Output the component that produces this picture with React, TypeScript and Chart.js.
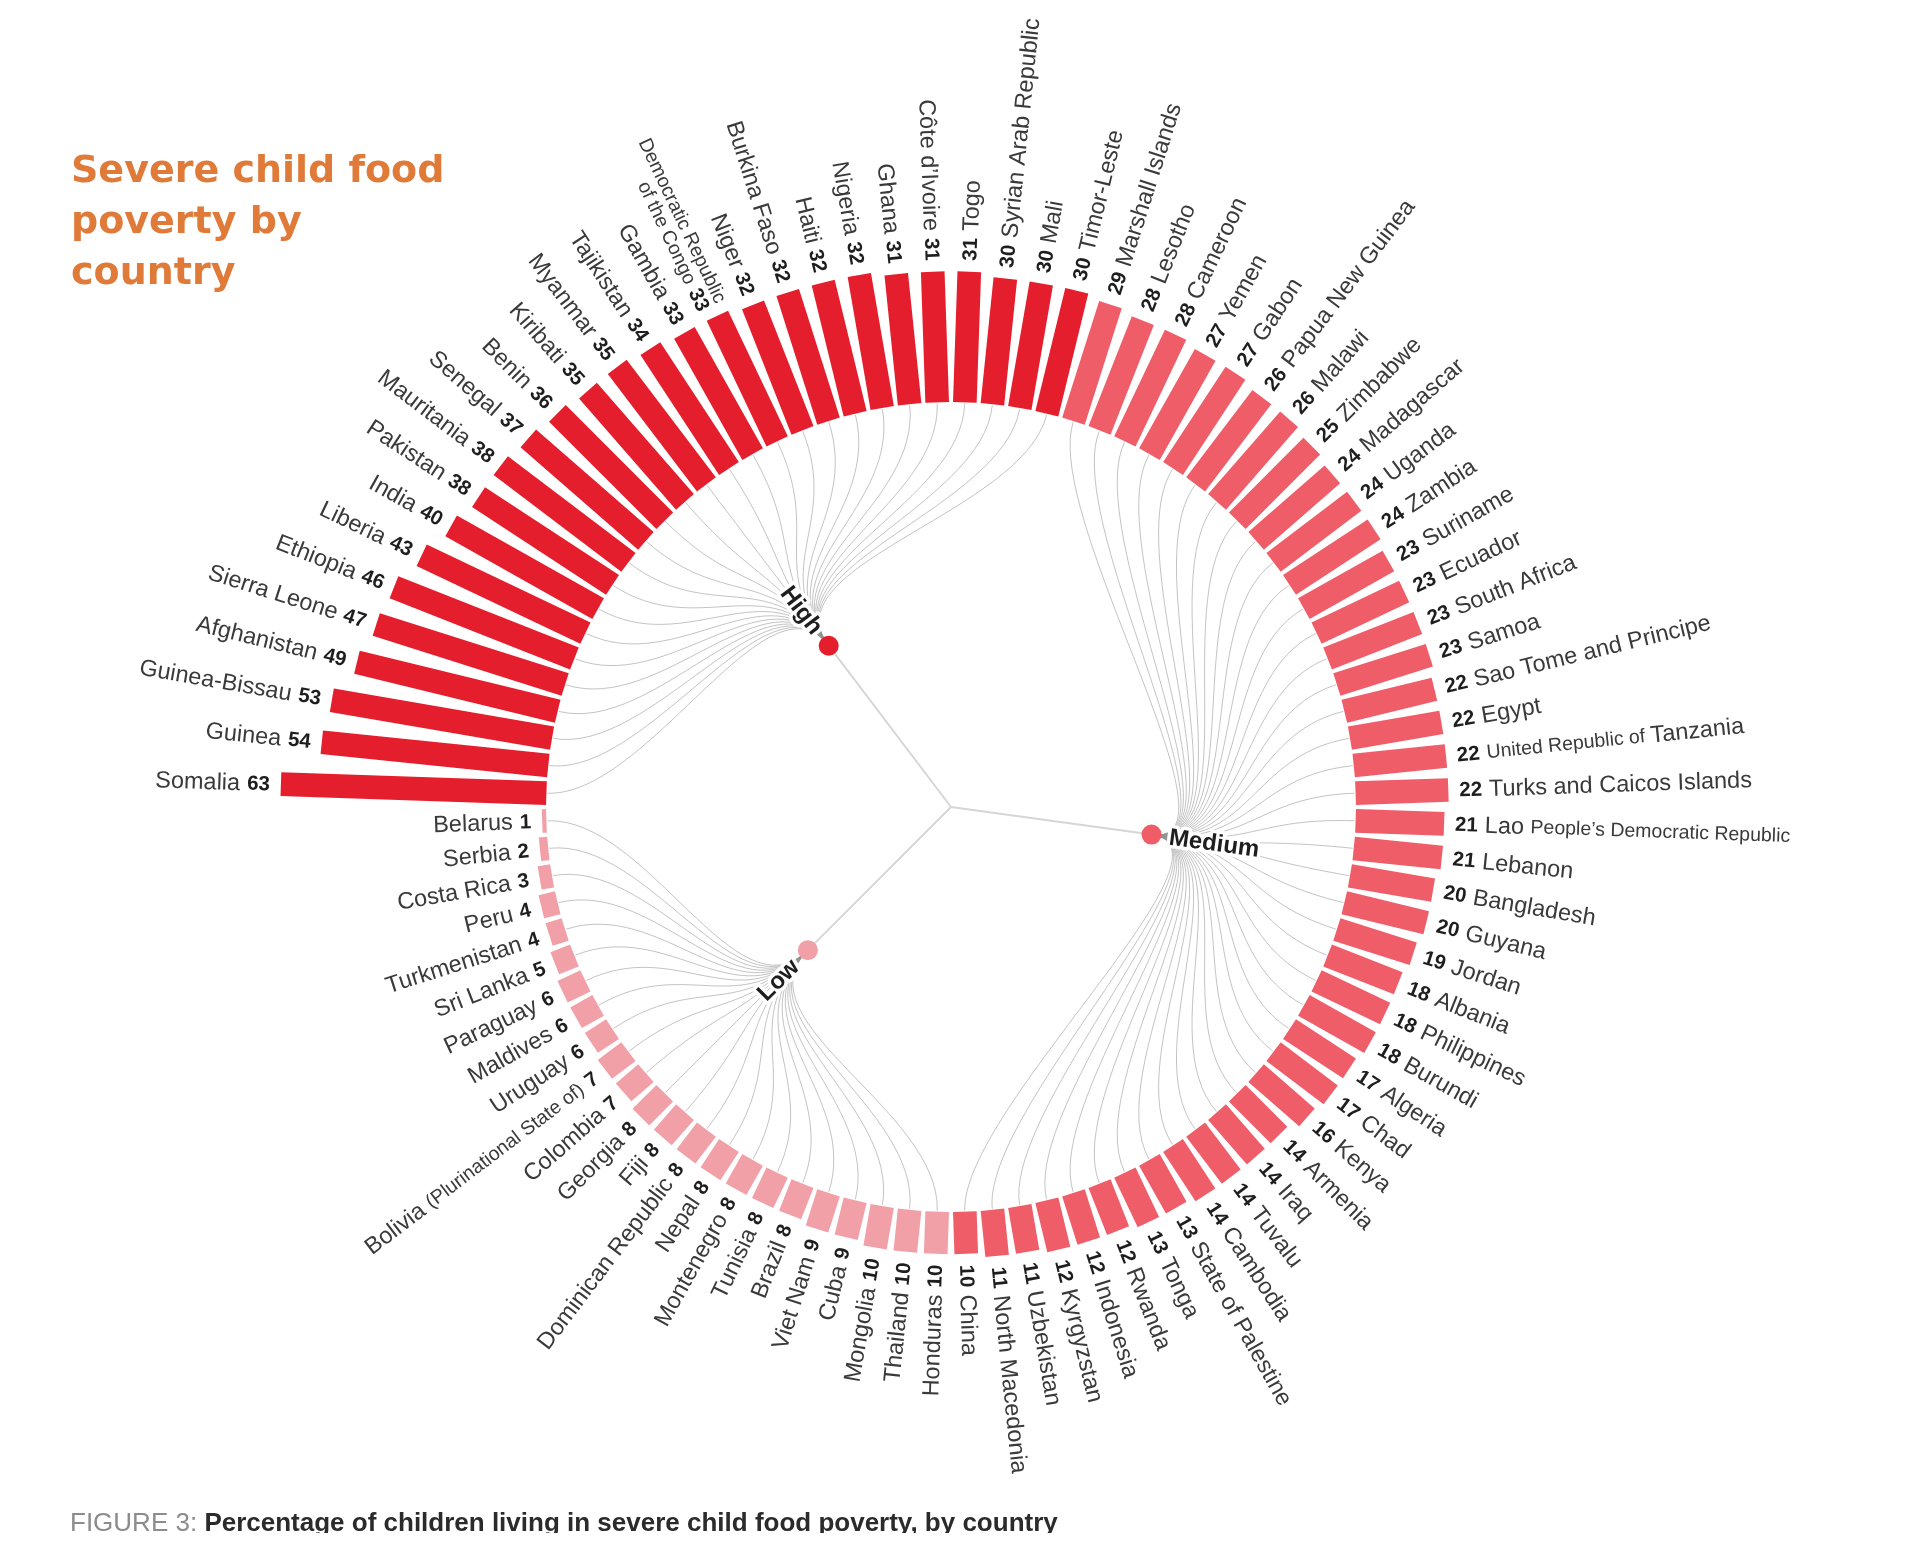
import React, { useEffect, useRef } from 'react';
import { Chart, registerables, ArcElement, PolarAreaController } from 'chart.js';

Chart.register(...registerables);

// ---------------- data ----------------
const highCountries = [
  'Somalia', 'Guinea', 'Guinea-Bissau', 'Afghanistan', 'Sierra Leone', 'Ethiopia', 'Liberia', 'India',
  'Pakistan', 'Mauritania', 'Senegal', 'Benin', 'Kiribati', 'Myanmar', 'Tajikistan', 'Gambia',
  'Democratic Republic of the Congo', 'Niger', 'Burkina Faso', 'Haiti', 'Nigeria', 'Ghana',
  'Côte d’Ivoire', 'Togo', 'Syrian Arab Republic', 'Mali', 'Timor-Leste',
];
const highValues = [63, 54, 53, 49, 47, 46, 43, 40, 38, 38, 37, 36, 35, 35, 34, 33, 33, 32, 32, 32, 32, 31, 31, 31, 30, 30, 30];

const mediumCountries = [
  'Marshall Islands', 'Lesotho', 'Cameroon', 'Yemen', 'Gabon', 'Papua New Guinea', 'Malawi', 'Zimbabwe',
  'Madagascar', 'Uganda', 'Zambia', 'Suriname', 'Ecuador', 'South Africa', 'Samoa', 'Sao Tome and Principe',
  'Egypt', 'United Republic of Tanzania', 'Turks and Caicos Islands', 'Lao People’s Democratic Republic',
  'Lebanon', 'Bangladesh', 'Guyana', 'Jordan', 'Albania', 'Philippines', 'Burundi', 'Algeria', 'Chad',
  'Kenya', 'Armenia', 'Iraq', 'Tuvalu', 'Cambodia', 'State of Palestine', 'Tonga', 'Rwanda', 'Indonesia',
  'Kyrgyzstan', 'Uzbekistan', 'North Macedonia', 'China',
];
const mediumValues = [29, 28, 28, 27, 27, 26, 26, 25, 24, 24, 24, 23, 23, 23, 23, 22, 22, 22, 22, 21, 21, 20, 20, 19, 18, 18, 18, 17, 17, 16, 14, 14, 14, 14, 13, 13, 12, 12, 12, 11, 11, 10];

const lowCountries = [
  'Honduras', 'Thailand', 'Mongolia', 'Cuba', 'Viet Nam', 'Brazil', 'Tunisia', 'Montenegro', 'Nepal',
  'Dominican Republic', 'Fiji', 'Georgia', 'Colombia', 'Bolivia (Plurinational State of)', 'Uruguay',
  'Maldives', 'Paraguay', 'Sri Lanka', 'Turkmenistan', 'Peru', 'Costa Rica', 'Serbia', 'Belarus',
];
const lowValues = [10, 10, 10, 9, 9, 8, 8, 8, 8, 8, 8, 8, 7, 7, 6, 6, 6, 5, 4, 4, 3, 2, 1];

const groupNames = ['High', 'Medium', 'Low'];
const groupColors = ['#e41e2c', '#ef5d69', '#f2a0a8'];

const titleLines = ['Severe child food', 'poverty by', 'country'];
const captionLead = 'FIGURE 3:';
const captionText = 'Percentage of children living in severe child food poverty, by country';

// parts of names printed in a smaller type
const smallParts: Record<string, string> = {
  'United Republic of Tanzania': 'United Republic of ',
  'Lao People’s Democratic Republic': 'People’s Democratic Republic',
  'Bolivia (Plurinational State of)': '(Plurinational State of)',
};
// names printed on two lines
const twoLineNames: Record<string, string[]> = {
  'Democratic Republic of the Congo': ['Democratic Republic', 'of the Congo'],
};

const countries = [...highCountries, ...mediumCountries, ...lowCountries];
const values = [...highValues, ...mediumValues, ...lowValues];
const groupIndex = [
  ...highCountries.map(() => 0),
  ...mediumCountries.map(() => 1),
  ...lowCountries.map(() => 2),
];

// ---------------- style ----------------
const FONT_FAMILY = '"Liberation Sans", Arial, Helvetica, sans-serif';
const NAME_FONT = `23.5px ${FONT_FAMILY}`;
const SMALL_FONT = `19.5px ${FONT_FAMILY}`;
const TWO_LINE_FONT = `19.5px ${FONT_FAMILY}`;
const VALUE_FONT = `bold 20.5px ${FONT_FAMILY}`;
const GROUP_FONT = `bold 24px ${FONT_FAMILY}`;
const NAME_COLOR = '#3a3a3a';
const VALUE_COLOR = '#1e1e1e';
const LABEL_GAP = 11;
const VALUE_NAME_GAP = 7;

// ---------------- custom element / controller: rectangular radial bars ----------------
class RadialBar extends ArcElement {
  static id = 'radialBar';
  draw(ctx: CanvasRenderingContext2D) {
    const p: any = (this as any).getProps(['x', 'y', 'startAngle', 'endAngle', 'innerRadius', 'outerRadius']);
    const opts: any = (this as any).options;
    const mid = (p.startAngle + p.endAngle) / 2;
    const half = (p.endAngle - p.startAngle) / 2;
    const gap = opts.borderWidth || 0;
    const w = Math.max(1, 2 * p.innerRadius * Math.sin(half) - gap);
    const len = Math.max(0, p.outerRadius - p.innerRadius);
    ctx.save();
    ctx.translate(p.x, p.y);
    ctx.rotate(mid);
    ctx.fillStyle = opts.backgroundColor;
    ctx.fillRect(p.innerRadius, -w / 2, len, w);
    ctx.restore();
  }
}

class RadialBarController extends PolarAreaController {
  static id = 'radialBarChart';
  static defaults = { dataElementType: 'radialBar' };
  updateElements(arcs: any[], start: number, count: number, mode: any) {
    super.updateElements(arcs, start, count, mode);
    const scale = (this as any)._cachedMeta.rScale;
    const r0 = scale.getDistanceFromCenterForValue(0);
    for (let i = start; i < start + count; i++) {
      if (arcs[i]) arcs[i].innerRadius = r0;
    }
  }
}

Chart.register(RadialBar as any, RadialBarController as any);

// ---------------- overlay plugin: dendrogram + labels ----------------
type Seg = { text: string; font: string; color: string; gapAfter?: number };

function nameSegments(name: string, font: string): Seg[] {
  const small = smallParts[name];
  if (!small) return [{ text: name, font, color: NAME_COLOR }];
  const i = name.indexOf(small);
  const segs: Seg[] = [];
  if (i > 0) segs.push({ text: name.slice(0, i), font, color: NAME_COLOR });
  segs.push({ text: small, font: SMALL_FONT, color: NAME_COLOR });
  const rest = name.slice(i + small.length);
  if (rest) segs.push({ text: rest, font, color: NAME_COLOR });
  return segs;
}

function drawSegs(ctx: CanvasRenderingContext2D, segs: Seg[], alignRight: boolean, y: number) {
  let total = 0;
  const widths = segs.map((s) => {
    ctx.font = s.font;
    const w = ctx.measureText(s.text).width;
    total += w + (s.gapAfter || 0);
    return w;
  });
  let x = alignRight ? -total : 0;
  segs.forEach((s, k) => {
    ctx.font = s.font;
    ctx.fillStyle = s.color;
    ctx.fillText(s.text, x, y);
    x += widths[k] + (s.gapAfter || 0);
  });
}

const overlayPlugin = {
  id: 'dendroOverlay',
  afterDatasetsDraw(chart: any) {
    const meta = chart.getDatasetMeta(0);
    const arcs = meta.data as any[];
    if (!arcs.length) return;
    const ctx: CanvasRenderingContext2D = chart.ctx;
    const cx = arcs[0].x;
    const cy = arcs[0].y;
    const r0 = arcs[0].innerRadius;
    const rNode = r0 / 2;
    const mids = arcs.map((a) => (a.startAngle + a.endAngle) / 2);

    // group angles
    const gAngles = groupNames.map((_, g) => {
      let s = 0, n = 0;
      mids.forEach((m, i) => { if (groupIndex[i] === g) { s += m; n++; } });
      return s / n;
    });
    const P = (a: number, r: number) => [cx + Math.cos(a) * r, cy + Math.sin(a) * r];

    ctx.save();
    // links group -> leaf (radial bump curves)
    ctx.strokeStyle = 'rgba(145,145,145,0.55)';
    ctx.lineWidth = 1;
    mids.forEach((m, i) => {
      const ga = gAngles[groupIndex[i]];
      const rl = r0 - 1;
      const rm = (rNode + rl) / 2;
      const p0 = P(ga, rNode), p1 = P(ga, rm), p2 = P(m, rm), p3 = P(m, rl);
      ctx.beginPath();
      ctx.moveTo(p0[0], p0[1]);
      ctx.bezierCurveTo(p1[0], p1[1], p2[0], p2[1], p3[0], p3[1]);
      ctx.stroke();
    });
    // root -> group
    ctx.strokeStyle = '#d6d6d6';
    ctx.lineWidth = 2;
    gAngles.forEach((ga) => {
      const p = P(ga, rNode);
      ctx.beginPath();
      ctx.moveTo(cx, cy);
      ctx.lineTo(p[0], p[1]);
      ctx.stroke();
    });
    // group nodes + labels
    gAngles.forEach((ga, g) => {
      const p = P(ga, rNode);
      ctx.beginPath();
      ctx.arc(p[0], p[1], 10, 0, Math.PI * 2);
      ctx.fillStyle = groupColors[g];
      ctx.fill();
      const right = Math.cos(ga) > 0;
      const q = P(ga, rNode + 18);
      ctx.save();
      ctx.translate(q[0], q[1]);
      ctx.rotate(right ? ga : ga + Math.PI);
      ctx.font = GROUP_FONT;
      ctx.textBaseline = 'middle';
      ctx.textAlign = right ? 'left' : 'right';
      ctx.lineJoin = 'round';
      ctx.lineWidth = 7;
      ctx.strokeStyle = '#ffffff';
      ctx.strokeText(groupNames[g], 0, 1);
      ctx.fillStyle = '#1e1e1e';
      ctx.fillText(groupNames[g], 0, 1);
      ctx.restore();
    });

    // bar labels
    arcs.forEach((arc, i) => {
      const a = mids[i];
      const right = Math.cos(a) > 0;
      const r = arc.outerRadius + LABEL_GAP;
      const name = countries[i];
      const valueSeg: Seg = { text: String(values[i]), font: VALUE_FONT, color: VALUE_COLOR, gapAfter: 0 };
      const split = twoLineNames[name];
      const lineTexts = split || [name];
      const font = split ? TWO_LINE_FONT : NAME_FONT;
      const lines: Seg[][] = lineTexts.map((t) => nameSegments(t, font));
      if (right) {
        lines[0] = [{ ...valueSeg, gapAfter: VALUE_NAME_GAP }, ...lines[0]];
      } else {
        const last = lines[lines.length - 1];
        last[last.length - 1] = { ...last[last.length - 1], gapAfter: VALUE_NAME_GAP };
        last.push(valueSeg);
      }
      ctx.save();
      ctx.translate(cx + Math.cos(a) * r, cy + Math.sin(a) * r);
      ctx.rotate(right ? a : a + Math.PI);
      ctx.textBaseline = 'middle';
      ctx.textAlign = 'left';
      const lh = 19;
      lines.forEach((segs, k) => {
        const y = (k - (lines.length - 1) / 2) * lh + 1;
        drawSegs(ctx, segs, !right, y);
      });
      ctx.restore();
    });
    ctx.restore();
  },
};

// ---------------- component ----------------
const CANVAS_W = 1904;
const CANVAS_H = 1520;

export default function App() {
  const canvasRef = useRef<HTMLCanvasElement>(null);

  useEffect(() => {
    if (!canvasRef.current) return;
    const chart = new Chart(canvasRef.current, {
      type: 'radialBarChart' as any,
      data: {
        labels: countries,
        datasets: [
          {
            data: values,
            backgroundColor: groupIndex.map((g) => groupColors[g]),
            borderWidth: 4,
          } as any,
        ],
      },
      options: {
        responsive: false,
        maintainAspectRatio: false,
        animation: false,
        layout: { padding: { left: 243, top: 99, right: 261, bottom: 21 } },
        plugins: {
          legend: { display: false },
          tooltip: { enabled: false },
        },
        scales: {
          r: {
            display: false,
            min: -96,
            max: 70,
            startAngle: -90,
          },
        },
      } as any,
      plugins: [overlayPlugin],
    });
    return () => chart.destroy();
  }, []);

  return (
    <div style={{ position: 'relative', width: CANVAS_W, height: 1525, background: '#ffffff' }}>
      <canvas
        ref={canvasRef}
        width={CANVAS_W}
        height={CANVAS_H}
        style={{ position: 'absolute', left: 0, top: 0, width: CANVAS_W, height: CANVAS_H }}
      />
      <div
        style={{
          position: 'absolute',
          left: 63,
          top: 136,
          fontFamily: '"DejaVu Sans", sans-serif',
          fontWeight: 'bold',
          fontSize: 38,
          lineHeight: '51px',
          color: '#e07a38',
        }}
      >
        {titleLines.map((l) => (
          <div key={l}>{l}</div>
        ))}
      </div>
      <div
        style={{
          position: 'absolute',
          left: 62,
          top: 1499,
          fontFamily: FONT_FAMILY,
          fontSize: 26,
          lineHeight: '30px',
          whiteSpace: 'nowrap',
        }}
      >
        <span style={{ color: '#8c8c8c' }}>{captionLead}</span>{' '}
        <span style={{ color: '#2b2b2b', fontWeight: 'bold' }}>{captionText}</span>
      </div>
    </div>
  );
}
